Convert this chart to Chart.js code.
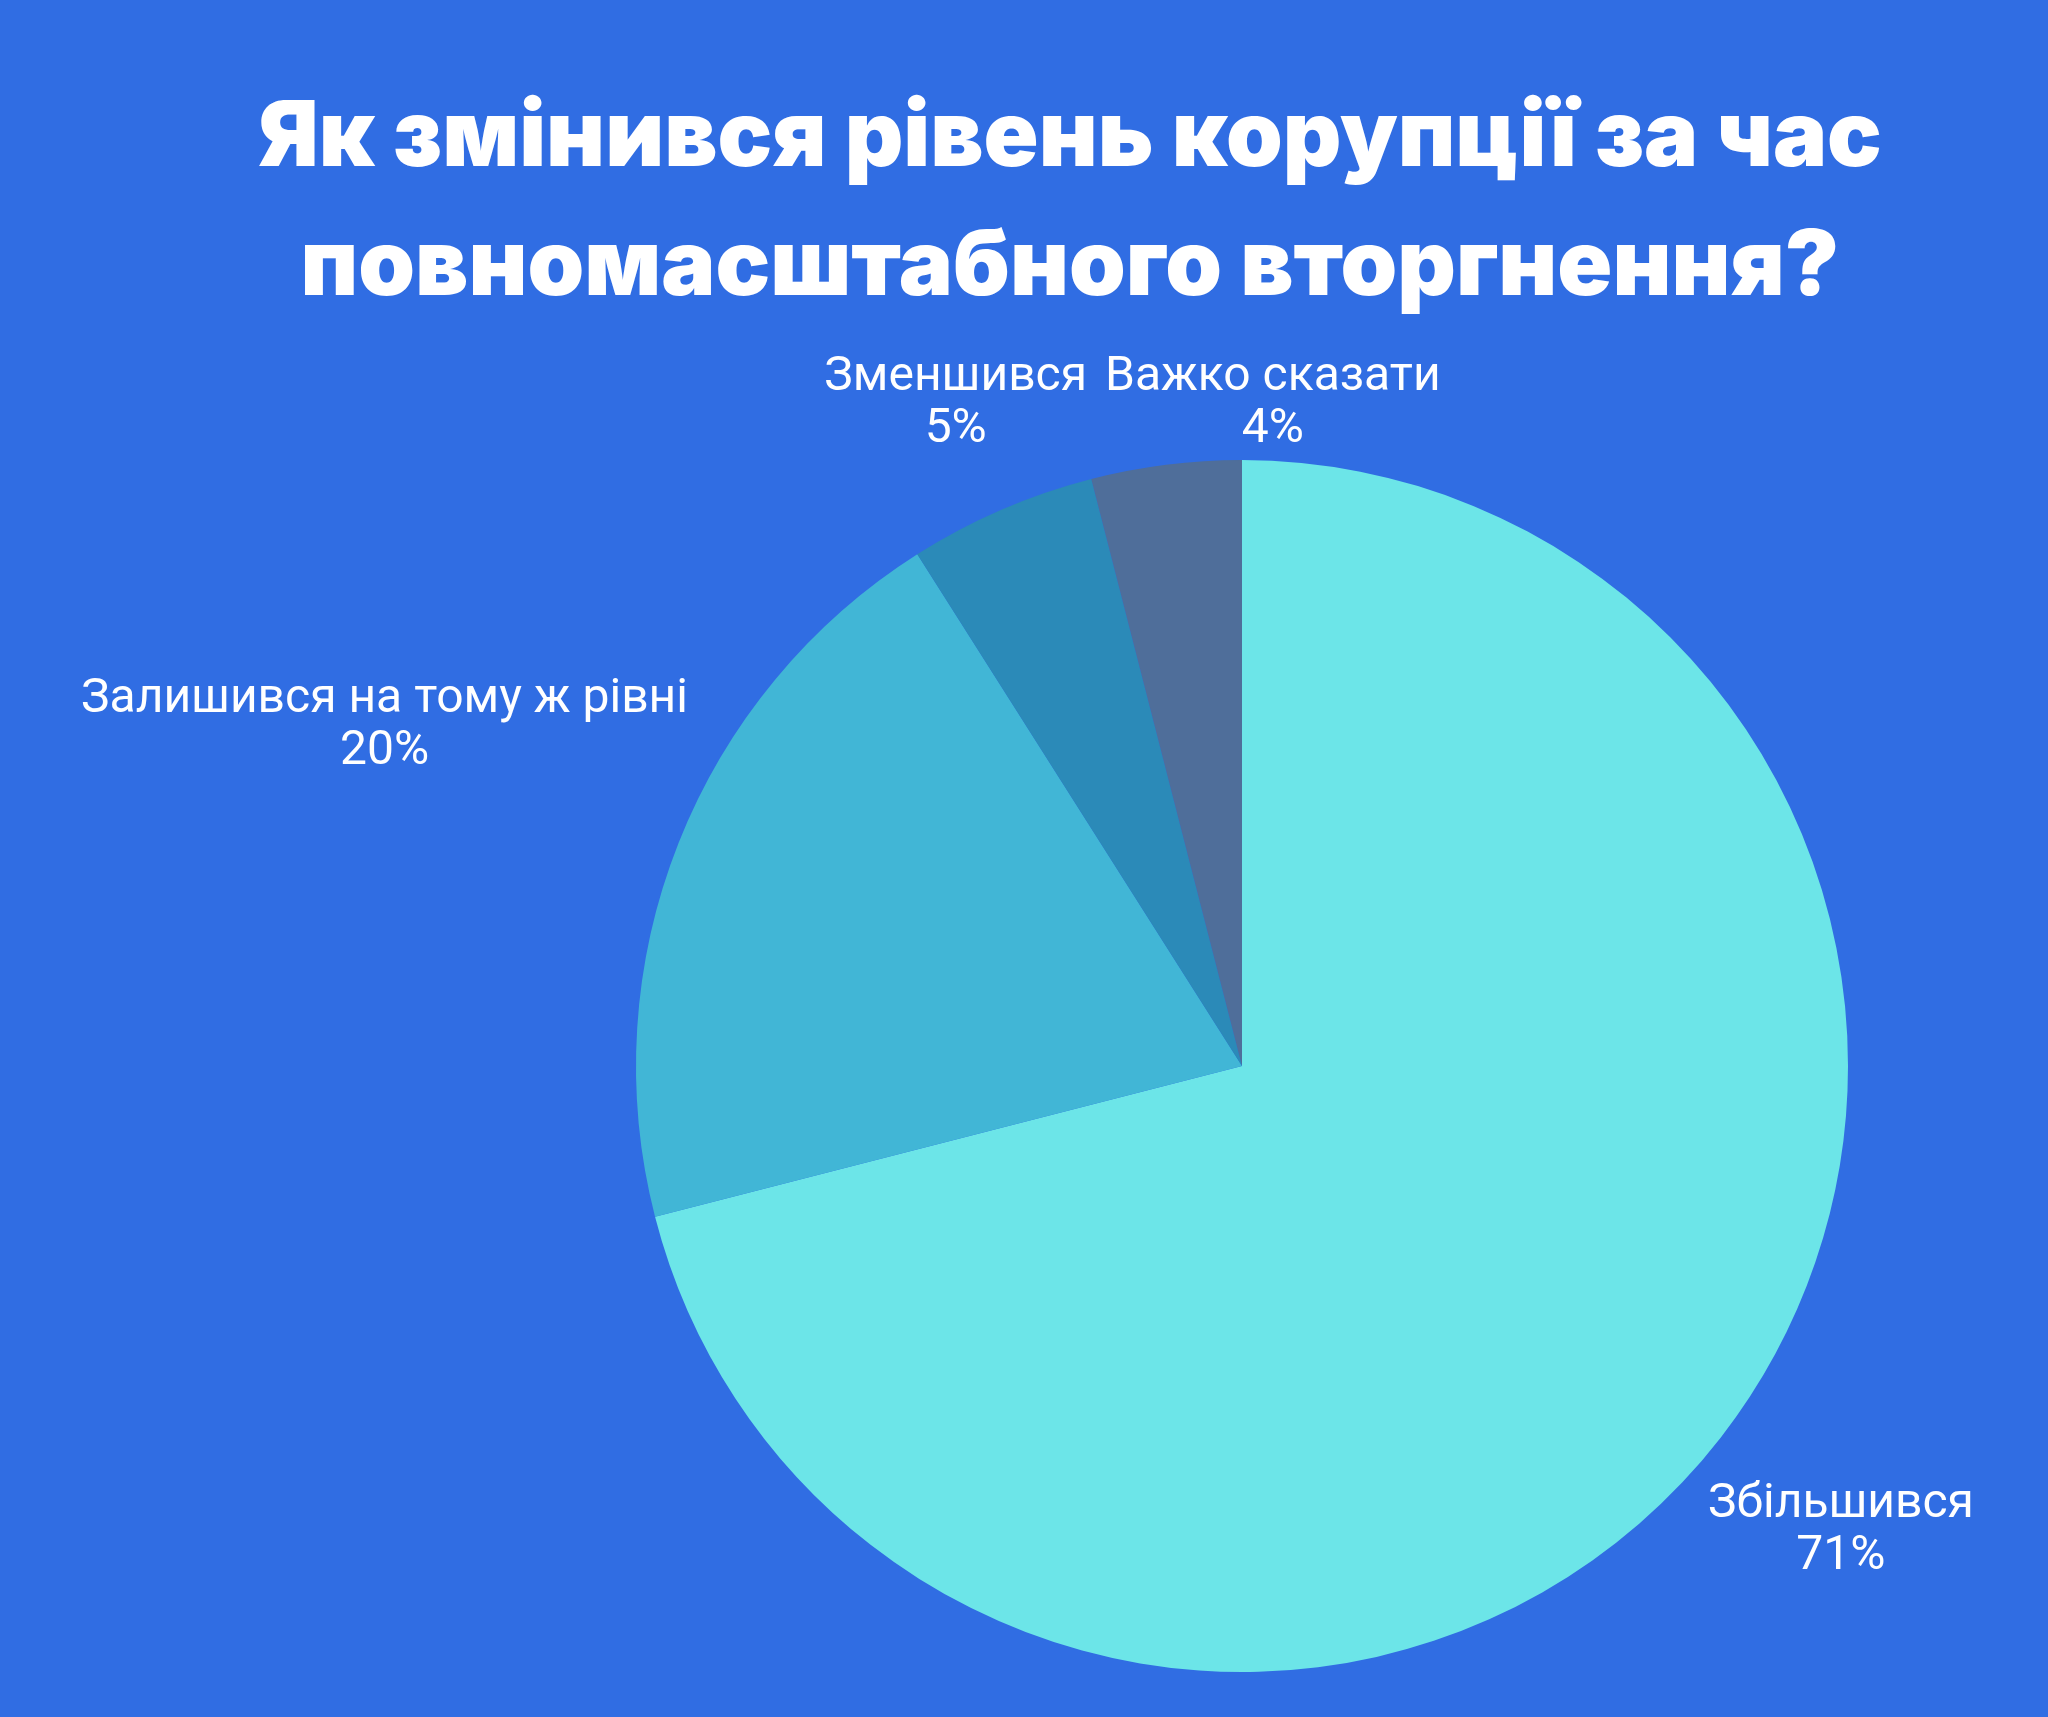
<!DOCTYPE html>
<html>
<head>
<meta charset="utf-8">
<script src="https://cdn.jsdelivr.net/npm/chart.js@4.4.1/dist/chart.umd.min.js"></script>
<style>
    html, body { margin: 0; padding: 0; background: #306DE3; }
    #wrap { width: 2048px; height: 1717px; position: relative; }
</style>
</head>
<body>
<div id="wrap"><canvas id="corruptionChart"></canvas></div>
<script>
const categories = ['Збільшився', 'Залишився на тому ж рівні', 'Зменшився', 'Важко сказати'];
const shares = [71, 20, 5, 4];
const sliceColors = ['#6CE5E8', '#41B6D6', '#2B8AB8', '#4F6E9A'];
const titleLines = ['Як змінився рівень корупції за час', 'повномасштабного вторгнення?'];

// background + title drawn on the canvas
const backdrop = {
    id: 'backdrop',
    beforeDraw(chart) {
        const ctx = chart.ctx;
        ctx.save();
        ctx.fillStyle = '#306DE3';
        ctx.fillRect(0, 0, chart.width, chart.height);
        ctx.restore();
    },
    afterDraw(chart) {
        const ctx = chart.ctx;
        ctx.save();
        let size = 92;
        ctx.font = `900 ${size}px Inter`;
        let w = ctx.measureText(titleLines[0]).width;
        size = size * 1624 / w;
        ctx.font = `900 ${size}px Inter`;
        ctx.fillStyle = '#ffffff';
        ctx.textAlign = 'center';
        ctx.textBaseline = 'alphabetic';
        ctx.fillText(titleLines[0], 1070, 166);
        ctx.fillText(titleLines[1], 1070, 295);
        ctx.restore();
    }
};

// outside labels: name + percent, centred on each slice's middle ray,
// just far enough out that the text box clears the pie
const sliceLabels = {
    id: 'sliceLabels',
    afterDatasetsDraw(chart) {
        const ctx = chart.ctx;
        const arcs = chart.getDatasetMeta(0).data;
        const lineH = 52;
        const gap = 15;
        ctx.save();
        ctx.font = '400 48px Roboto';
        ctx.fillStyle = '#ffffff';
        ctx.textAlign = 'center';
        ctx.textBaseline = 'middle';
        let boxes = [];
        arcs.forEach((arc, i) => {
            const mid = (arc.startAngle + arc.endAngle) / 2;
            const dx = Math.cos(mid), dy = Math.sin(mid);
            const lines = [categories[i], shares[i] + '%'];
            const w = Math.max(...lines.map(l => ctx.measureText(l).width));
            const h = lines.length * lineH;
            const dist = arc.outerRadius + gap + Math.abs(dx) * w / 2 + Math.abs(dy) * h / 2;
            let cx = arc.x + dx * dist;
            let cy = arc.y + dy * dist;
            for (let b of boxes) {
                if (Math.abs(cx - b.cx) < (w + b.w) / 2 && Math.abs(cy - b.cy) < (h + b.h) / 2) {
                    cx = b.cx + b.w / 2 + 18 + w / 2;
                    cy = b.cy;
                }
            }
            boxes.push({cx, cy, w, h});
            lines.forEach((l, k) => {
                ctx.fillText(l, cx, cy - h / 2 + lineH * (k + 0.5));
            });
        });
        ctx.restore();
    }
};

new Chart(document.getElementById('corruptionChart'), {
    type: 'pie',
    data: {
        labels: categories,
        datasets: [{
            data: shares,
            backgroundColor: sliceColors,
            borderWidth: 0
        }]
    },
    options: {
        responsive: true,
        maintainAspectRatio: false,
        animation: false,
        layout: {
            padding: { top: 460, bottom: 45, left: 636, right: 200 }
        },
        plugins: {
            legend: { display: false },
            tooltip: { enabled: false },
            title: { display: false }
        }
    },
    plugins: [backdrop, sliceLabels]
});
</script>
</body>
</html>
